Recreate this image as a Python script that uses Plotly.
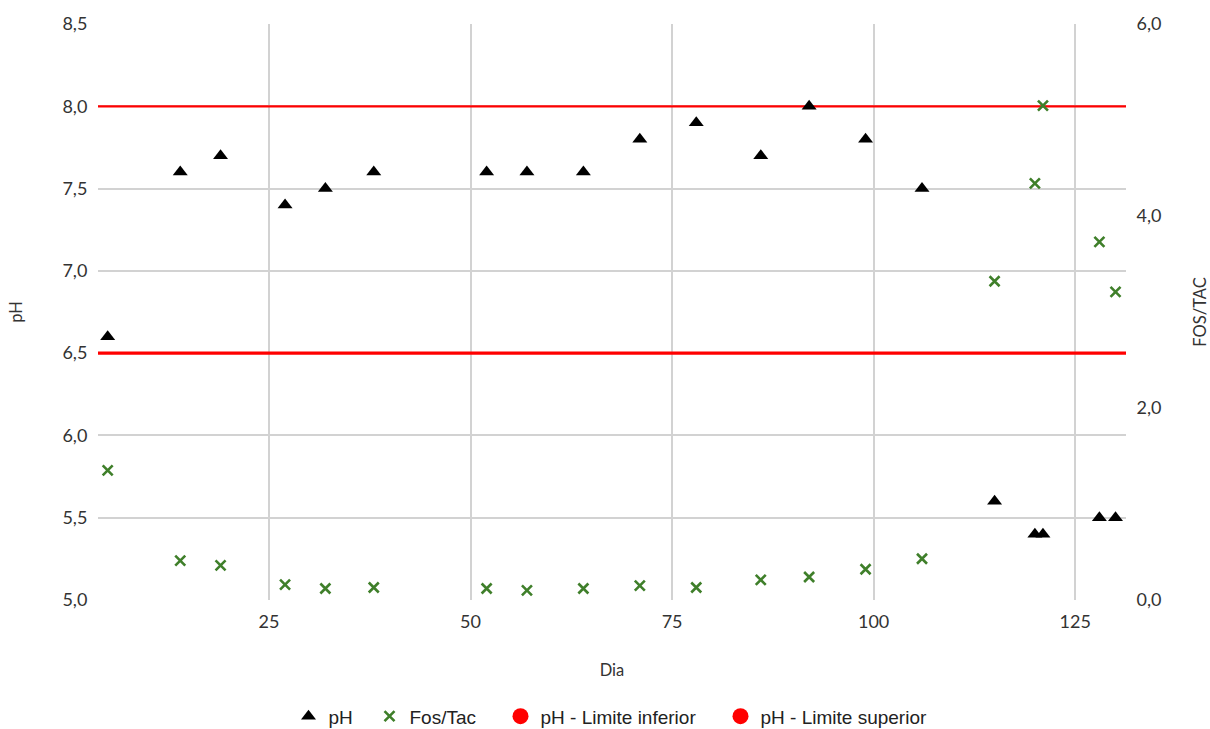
import plotly.graph_objects as go

# ---- data ----
DIA = [5, 14, 19, 27, 32, 38, 52, 57, 64, 71, 78, 86, 92, 99, 106, 115, 120, 121, 128, 130]
PH = [6.6, 7.6, 7.7, 7.4, 7.5, 7.6, 7.6, 7.6, 7.6, 7.8, 7.9, 7.7, 8.0, 7.8, 7.5, 5.6, 5.4, 5.4, 5.5, 5.5]
FOS_TAC = [1.35, 0.41, 0.36, 0.16, 0.12, 0.13, 0.12, 0.10, 0.12, 0.15, 0.13, 0.21, 0.24, 0.32, 0.43,
           3.32, 4.34, 5.15, 3.73, 3.21]
PH_LIMITE_INFERIOR = 6.5
PH_LIMITE_SUPERIOR = 8.0

X_RANGE = [3.8, 131.3]
X_TICKS = [25, 50, 75, 100, 125]
PH_RANGE = [5.0, 8.5]
FT_RANGE = [0.0, 6.0]
FT_TICKS = [0, 2, 4, 6]

TICK_FONT = dict(family="Lato, Open Sans, sans-serif", size=18, color="#333333")
TITLE_FONT = dict(family="Lato, Open Sans, sans-serif", size=16.5, color="#333333")
GRID = "#d2d2d2"
GREEN = "#3f7f2a"
RED = "#ff0000"

fig = go.Figure()

# limit lines (drawn first so markers sit on top)
fig.add_trace(go.Scatter(x=X_RANGE, y=[PH_LIMITE_INFERIOR] * 2, mode="lines",
                         line=dict(color=RED, width=3.3), showlegend=False, hoverinfo="skip"))
fig.add_trace(go.Scatter(x=X_RANGE, y=[PH_LIMITE_SUPERIOR] * 2, mode="lines",
                         line=dict(color=RED, width=2.3), showlegend=False, hoverinfo="skip"))

fig.add_trace(go.Scatter(x=DIA, y=PH, mode="markers", name="pH",
                         marker=dict(symbol="triangle-up", size=13, color="black"),
                         legendrank=1, legendwidth=36))
fig.add_trace(go.Scatter(x=DIA, y=FOS_TAC, mode="markers", name="Fos/Tac", yaxis="y2",
                         marker=dict(symbol="x-thin", size=10, color=GREEN,
                                     line=dict(color=GREEN, width=2.6)),
                         legendrank=2, legendwidth=86))
# legend entries for the limits
fig.add_trace(go.Scatter(x=[None], y=[None], mode="markers", name="pH - Limite inferior",
                         marker=dict(symbol="circle", size=18, color=RED), legendrank=3,
                         legendwidth=175))
fig.add_trace(go.Scatter(x=[None], y=[None], mode="markers", name="pH - Limite superior",
                         marker=dict(symbol="circle", size=18, color=RED), legendrank=4,
                         legendwidth=170))

fig.update_layout(
    width=1210, height=729,
    margin=dict(l=98, r=84, t=24, b=128.5, autoexpand=False),
    paper_bgcolor="white", plot_bgcolor="white",
    separators=", ",
    showlegend=True,
    legend=dict(orientation="h", x=0.5, xanchor="center", y=-0.202, yanchor="middle",
                font=dict(family="Liberation Sans, Arial, sans-serif", size=19, color="#222222"),
                traceorder="normal"),
    xaxis=dict(range=X_RANGE, tickvals=X_TICKS, showgrid=True, gridcolor=GRID, gridwidth=1.5,
               zeroline=False, showline=False, tickfont=TICK_FONT, automargin=False,
               ticks="outside", ticklen=5, tickcolor="rgba(0,0,0,0)",
               title=dict(text="Dia", font=TITLE_FONT, standoff=33)),
    yaxis=dict(range=PH_RANGE, dtick=0.5, tick0=5, tickformat=".1f", showgrid=True, automargin=False,
               gridcolor=GRID, gridwidth=1.5, zeroline=False, showline=False, tickfont=TICK_FONT,
               ticks="outside", ticklen=6, tickcolor="rgba(0,0,0,0)",
               title=dict(text="pH", font=TITLE_FONT, standoff=35)),
    yaxis2=dict(range=FT_RANGE, tickvals=FT_TICKS, tickformat=".1f", overlaying="y", side="right",
                showgrid=False, zeroline=False, showline=False, tickfont=TICK_FONT, automargin=False,
                ticks="outside", ticklen=6, tickcolor="rgba(0,0,0,0)",
                title=dict(text="FOS/TAC", font=TITLE_FONT, standoff=33)),
)

fig.write_html("out.html", config={"displayModeBar": False},
               post_script="document.body.style.margin='0';document.body.style.overflow='hidden';")
